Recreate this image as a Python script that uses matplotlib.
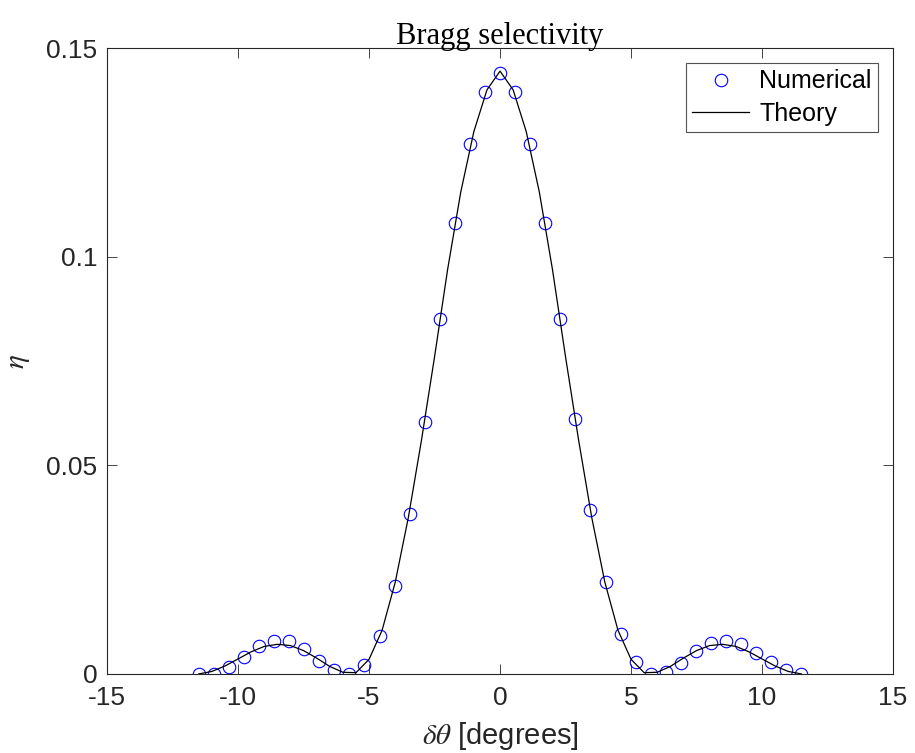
import numpy as np
import matplotlib
matplotlib.use("Agg")
import matplotlib.pyplot as plt

plt.rcParams['font.family'] = ['Liberation Sans', 'DejaVu Sans']
plt.rcParams['mathtext.fontset'] = 'stix'
plt.rcParams['axes.unicode_minus'] = False

# numerical points (degrees, efficiency)
num_x = np.linspace(-11.5, 11.5, 41)
num_eta = [0.0, 0.0001, 0.0017, 0.0040, 0.0067, 0.0080, 0.0078, 0.0060, 0.0030, 0.0010,
           0.0, 0.0022, 0.0090, 0.0210, 0.0384, 0.0605, 0.0850, 0.1080, 0.1270, 0.1395,
           0.1440,
           0.1395, 0.1270, 0.1080, 0.0852, 0.0612, 0.0392, 0.0220, 0.0095, 0.0028, 0.0,
           0.0005, 0.0026, 0.0055, 0.0074, 0.0080, 0.0072, 0.0050, 0.0028, 0.0009, 0.0]

# theory curve read at 0.5 degree steps (0 to 11.5, mirrored)
th_x = np.arange(-11.5, 11.51, 0.5)
th_half = [0.1445, 0.140, 0.130, 0.1155, 0.097, 0.076, 0.056, 0.0375, 0.022, 0.0105,
           0.0035, 0.0003, 0.0004, 0.0018, 0.0038, 0.0056, 0.0068, 0.0071, 0.0066,
           0.0053, 0.0036, 0.0019, 0.0006, 0.0]
th_eta = th_half[::-1] + th_half[1:]

fig = plt.figure(figsize=(9.15, 7.53), dpi=100)
ax = fig.add_axes([0.117, 0.105, 0.859, 0.831])

ax.plot(num_x, num_eta, 'o', mfc='none', mec='blue', ms=9, mew=0.8, label='Numerical')
ax.plot(th_x, th_eta, '-', color='black', lw=0.9, label='Theory')

ax.set_xlim(-15, 15)
ax.set_ylim(0, 0.15)
ax.set_xticks([-15, -10, -5, 0, 5, 10, 15])
ax.set_yticks([0, 0.05, 0.1, 0.15])
ax.set_yticklabels(['0', '0.05', '0.1', '0.15'])
ax.tick_params(direction='in', top=True, right=True, length=7, width=0.6,
               labelsize=19, colors='#262626', pad=7)
ax.tick_params(axis='x', pad=9)
for s in ax.spines.values():
    s.set_color('#262626')
    s.set_linewidth(0.8)

ax.set_xlabel(r'$\delta\theta$ [degrees]', fontsize=21, color='#262626', labelpad=7)
ax.set_ylabel(r'$\eta$', fontsize=21, color='#262626', labelpad=10)
ax.set_title('Bragg selectivity', fontsize=22, family='Liberation Serif', pad=3)

leg = ax.legend(loc='upper right', fontsize=18, frameon=True, fancybox=False,
                edgecolor='#262626', borderaxespad=0.6, handlelength=2.3,
                handletextpad=0.4, borderpad=0.25, labelspacing=0.35)
leg.get_frame().set_linewidth(0.8)

plt.savefig('out.png', dpi=100)
